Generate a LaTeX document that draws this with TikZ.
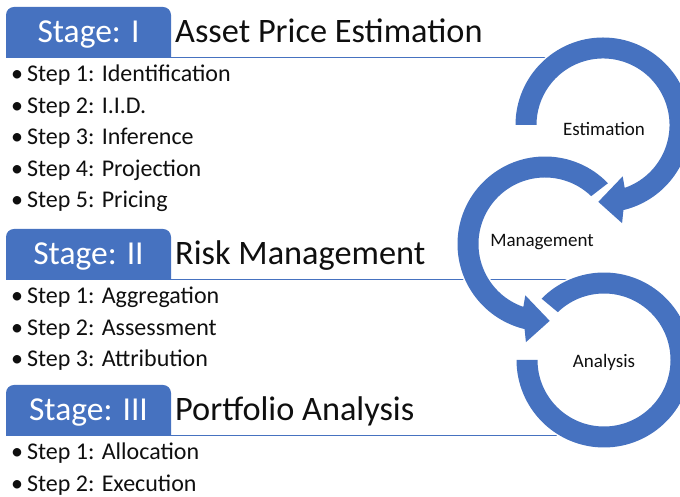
\documentclass[tikz,border=0pt]{standalone}
\usepackage{fontspec}
\setmainfont{Carlito}
\usetikzlibrary{positioning}
\definecolor{stageblue}{RGB}{70,114,192}
\definecolor{inkgray}{RGB}{15,15,15}

\begin{document}
\begin{tikzpicture}[x=1pt, y=1pt,
    stagetab/.style={fill=stageblue},
    stagerule/.style={draw=stageblue, line width=0.9pt},
    stagelabel/.style={anchor=base, text=white, inner sep=0pt, font=\fontsize{33.5}{38}\selectfont},
    stagetitle/.style={anchor=base west, text=inkgray, inner sep=0pt, font=\fontsize{34.3}{38}\selectfont},
    stepitem/.style={anchor=base west, text=inkgray, inner sep=0pt, font=\fontsize{24}{28}\selectfont},
    ring/.style={fill=stageblue, preaction={draw=white, line width=3pt}},
    cyclelabel/.style={text=inkgray, inner sep=0pt, font=\fontsize{19}{22}\selectfont}]
\useasboundingbox (0,0) rectangle (680,497);
\clip (0,0) rectangle (680,497);

% Stage headers: tab, label, title and rule
\foreach \n/\r/\xend/\num/\title in {1/440/550/I/Asset Price Estimation,
                                    2/218/570/II/Risk Management,
                                    3/62/557/III/Portfolio Analysis} {
    \fill[stagetab] (6,\r) [rounded corners=8pt] -- (6,\r+50) -- (171,\r+50) [sharp corners] -- (171,\r) -- cycle;
    \node[stagelabel] (stage\n) at (88.5,\r+14) {Stage: \num};
    \node[stagetitle] (title\n) at (175,\r+14) {\title};
    \coordinate (rulestart\n) at (6,\r);
    \coordinate (ruleend\n) at (\xend,\r);
    \draw[stagerule] (rulestart\n) -- (ruleend\n);
}

% Steps of each stage
\foreach \k/\step in {1/Identification, 2/I.I.D., 3/Inference, 4/Projection, 5/Pricing} {
    \pgfmathsetmacro{\ypos}{415-31.5*(\k-1)}
    \node[stepitem] (stepI\k) at (11,\ypos) {\textbullet\hspace{4pt}Step \k: \step};
}
\foreach \k/\step in {1/Aggregation, 2/Assessment, 3/Attribution} {
    \pgfmathsetmacro{\ypos}{193-31.5*(\k-1)}
    \node[stepitem] (stepII\k) at (11,\ypos) {\textbullet\hspace{4pt}Step \k: \step};
}
\foreach \k/\step in {1/Allocation, 2/Execution} {
    \pgfmathsetmacro{\ypos}{37-31.5*(\k-1)}
    \node[stepitem] (stepIII\k) at (11,\ypos) {\textbullet\hspace{4pt}Step \k: \step};
}

% Cycle of three circular arrows
\coordinate (est) at (603,372);
\coordinate (man) at (545,253);
\coordinate (ana) at (604,137);

% Analysis ring (no head)
\fill[ring] ([shift={(135.5:87.5)}]ana) arc[start angle=135.5, end angle=-180, radius=87.5]
    -- ([shift={(180:66.5)}]ana) arc[start angle=-180, end angle=134, radius=66.5] -- cycle;
% Management arrow
\fill[ring] ([shift={(44:87.5)}]man) arc[start angle=44, end angle=256.5, radius=87.5]
    -- ([shift={(259:100)}]man) -- ([shift={(273.5:77)}]man) -- ([shift={(249:55)}]man)
    -- ([shift={(251:66.5)}]man) arc[start angle=251, end angle=46, radius=66.5] -- cycle;
% Estimation arrow
\fill[ring] ([shift={(180:87.5)}]est) arc[start angle=180, end angle=-76.5, radius=87.5]
    -- ([shift={(-79:100)}]est) -- ([shift={(-93.5:77)}]est) -- ([shift={(-69:55)}]est)
    -- ([shift={(-71:66.5)}]est) arc[start angle=-71, end angle=180, radius=66.5] -- cycle;

\node[cyclelabel] (estlabel) at (604,368) {Estimation};
\node[cyclelabel] (manlabel) at (542,255) {Management};
\node[cyclelabel] (analabel) at (604,135) {Analysis};

\end{tikzpicture}
\end{document}
